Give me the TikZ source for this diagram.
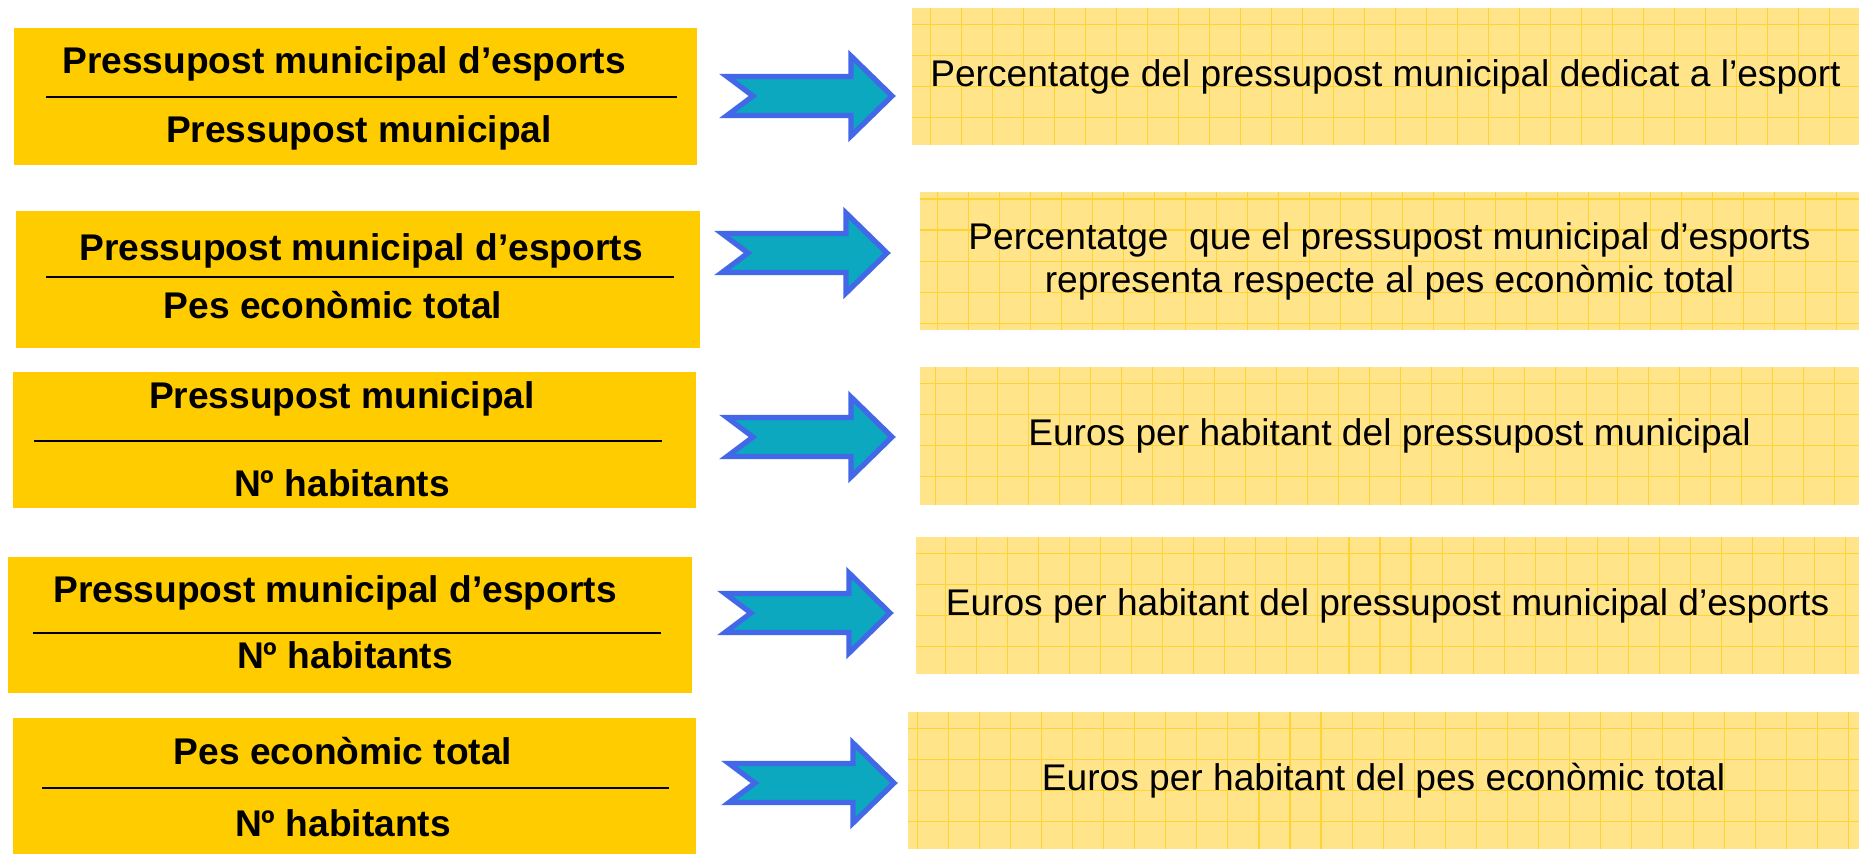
\documentclass[tikz,border=0pt]{standalone}
\usepackage{fontspec}
\setmainfont{Liberation Sans}
\definecolor{or}{RGB}{255,204,0}
\definecolor{groc}{RGB}{255,228,138}
\definecolor{quadr}{RGB}{255,212,50}
\definecolor{turquesa}{RGB}{12,168,192}
\definecolor{blau}{RGB}{66,104,232}

\begin{document}
\begin{tikzpicture}[x=0.01cm, y=-0.01cm]
\tikzset{caixa/.style={fill=or, minimum width=6.83cm, minimum height=1.36cm, inner sep=0pt},
  terme/.style={anchor=base, inner sep=0pt, font=\fontsize{10.56pt}{12pt}\selectfont\bfseries},
  ratlla/.style={line width=0.6pt},
  resultat/.style={fill=groc, minimum height=1.37cm, inner sep=0pt, align=center,
    font=\fontsize{10.56pt}{12.2pt}\selectfont,
    path picture={\draw[quadr, line width=0.3pt, step=0.31cm] (path picture bounding box.south west) grid (path picture bounding box.north east);}},
  fletxa/.pic={\draw[draw=blau, fill=turquesa, line width=1.5pt, line join=miter]
    (6,-19.5) -- (130,-19.5) -- (130,-40) -- (171,0) -- (130,40) -- (130,19.5) -- (6,19.5) -- (32,0) -- cycle;}}
\useasboundingbox (0,0) rectangle (1859,854);
\node[caixa] (q1) at (355.5,96.5) {};
\node[caixa] (q2) at (358,279.5) {};
\node[caixa] (q3) at (354.5,440) {};
\node[caixa] (q4) at (350,625) {};
\node[caixa] (q5) at (354.5,786) {};
\node[terme] (n1) at (344,73) {Pressupost municipal d’esports};
\node[terme] (d1) at (359,142) {Pressupost municipal};
\node[terme] (n2) at (361,260) {Pressupost municipal d’esports};
\node[terme] (d2) at (333,318) {Pes econòmic total};
\node[terme] (n3) at (342,408) {Pressupost municipal};
\node[terme] (d3) at (342,496) {Nº habitants};
\node[terme] (n4) at (335,602) {Pressupost municipal d’esports};
\node[terme] (d4) at (345,668) {Nº habitants};
\node[terme] (n5) at (343,764) {Pes econòmic total};
\node[terme] (d5) at (343,836) {Nº habitants};
\draw[ratlla] (46,97) -- (677,97);
\draw[ratlla] (46,277) -- (674,277);
\draw[ratlla] (34,441) -- (662,441);
\draw[ratlla] (33,633) -- (661,633);
\draw[ratlla] (42,788) -- (669,788);
\pic at (721,96) {fletxa};
\pic at (716,253) {fletxa};
\pic at (721,437) {fletxa};
\pic at (719,613) {fletxa};
\pic at (723,783) {fletxa};
\node[resultat, minimum width=9.47cm] (r1) at (1385.5,76.5) {Percentatge del pressupost municipal dedicat a l’esport};
\node[resultat, minimum width=9.39cm] (r2) at (1389.5,261) {Percentatge\ \ que el pressupost municipal d’esports\\representa respecte al pes econòmic total};
\node[resultat, minimum width=9.39cm] (r3) at (1389.5,436) {Euros per habitant del pressupost municipal};
\node[resultat, minimum width=9.43cm] (r4) at (1387.5,605.5) {Euros per habitant del pressupost municipal d’esports};
\node[resultat, minimum width=9.51cm] (r5) at (1383.5,780.5) {Euros per habitant del pes econòmic total};
\end{tikzpicture}
\end{document}
